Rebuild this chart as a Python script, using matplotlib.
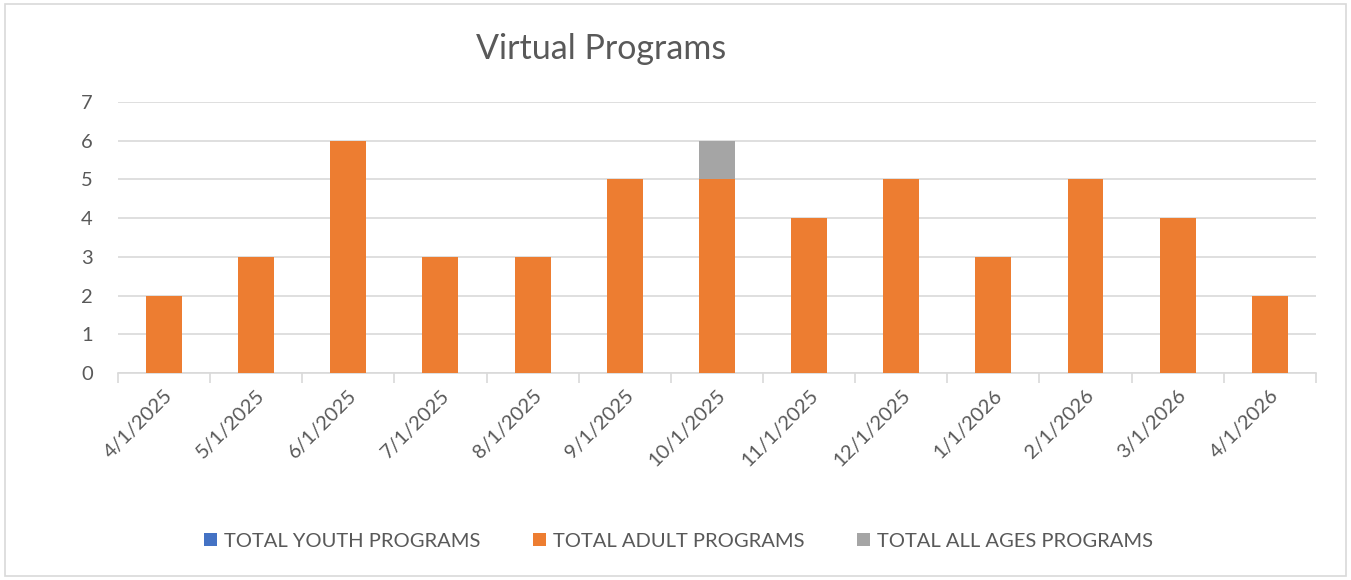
import matplotlib.pyplot as plt
import numpy as np
from matplotlib.patches import Rectangle

months = ['4/1/2025', '5/1/2025', '6/1/2025', '7/1/2025', '8/1/2025', '9/1/2025',
          '10/1/2025', '11/1/2025', '12/1/2025', '1/1/2026', '2/1/2026', '3/1/2026', '4/1/2026']
youth = [0, 0, 0, 0, 0, 0, 0, 0, 0, 0, 0, 0, 0]
adult = [2, 3, 6, 3, 3, 5, 5, 4, 5, 3, 5, 4, 2]
all_ages = [0, 0, 0, 0, 0, 0, 1, 0, 0, 0, 0, 0, 0]
labels = ['TOTAL YOUTH PROGRAMS', 'TOTAL ADULT PROGRAMS', 'TOTAL ALL AGES PROGRAMS']
colors = ['#4472C4', '#ED7D31', '#A5A5A5']

plt.rcParams['font.family'] = ['Lato', 'DejaVu Sans']
txt = '#595959'

fig = plt.figure(figsize=(13.51, 5.8), dpi=100)
fig.patches.append(Rectangle((0.004, 0.007), 0.992, 0.986, transform=fig.transFigure,
                             fill=False, edgecolor='#D9D9D9', lw=1.2))
ax = fig.add_axes([0.0873, 0.357, 0.8867, 0.467])

x = np.arange(len(months))
w = 0.39
b = np.zeros(len(months))
for vals, lab, c in zip([youth, adult, all_ages], labels, colors):
    ax.bar(x, vals, w, bottom=b, color=c, label=lab, zorder=3)
    b += np.array(vals)

ax.set_xlim(-0.5, len(months) - 0.5)
ax.set_ylim(0, 7)
ax.set_yticks(range(8))
ax.grid(axis='y', color='#D9D9D9', lw=1.2, zorder=0)
for s in ['top', 'right', 'left']:
    ax.spines[s].set_visible(False)
ax.spines['bottom'].set_color('#D9D9D9')
ax.spines['bottom'].set_linewidth(1.2)
ax.tick_params(axis='y', length=0, labelsize=14.5, labelcolor=txt, pad=18)
ax.set_xticks(x)
ax.set_xticklabels(months, rotation=45, ha='right', rotation_mode='anchor')
ax.tick_params(axis='x', which='major', length=0, labelsize=14.5, labelcolor=txt, pad=10)
ax.set_xticks(np.arange(-0.5, len(months)), minor=True)
ax.tick_params(axis='x', which='minor', length=7, color='#D9D9D9', width=1.2)

fig.text(0.445, 0.915, 'Virtual Programs', fontsize=24.5, color=txt, ha='center', va='center')

fig.legend(loc='center', bbox_to_anchor=(0.502, 0.067), ncol=3, frameon=False,
           fontsize=14.5, labelcolor=txt, handlelength=0.65, handleheight=0.65,
           handletextpad=0.35, columnspacing=2.6)

fig.savefig('out.png', dpi=100)
